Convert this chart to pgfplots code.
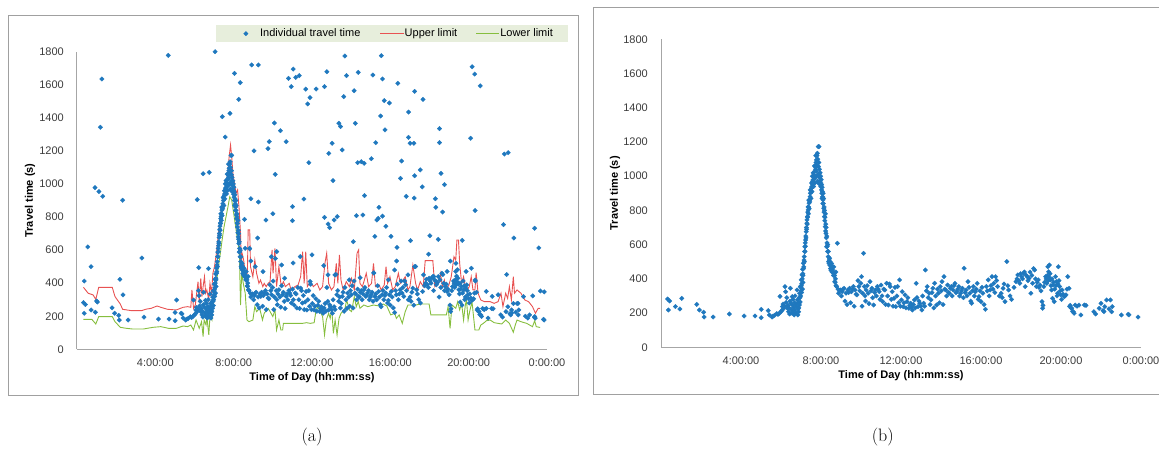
\documentclass[border=0pt]{standalone}
\usepackage{fontspec}
\setsansfont{Liberation Sans}
\usepackage{pgfplots}
\usepackage{pgfplotstable}
\pgfplotsset{compat=1.18}

\definecolor{ptblue}{RGB}{31,120,190}
\definecolor{upred}{RGB}{232,82,82}
\definecolor{lowgreen}{RGB}{134,190,62}
\definecolor{legfill}{RGB}{231,238,220}
\definecolor{axiscol}{RGB}{166,166,166}
\definecolor{framecol}{RGB}{160,160,160}
\definecolor{tickcol}{RGB}{60,60,60}

\pgfplotstableread{
h s
0.33 282
0.43 271
0.37 218
0.72 238
0.94 224
1.04 286
1.79 251
1.92 218
2.13 205
2.16 177
2.61 177
3.42 195
4.16 183
4.70 183
5.01 222
5.01 173
5.36 214
5.42 189
5.55 177
5.60 182
5.68 187
5.79 197
5.85 192
5.92 199
6.00 208
5.95 298
6.07 238
6.10 253
6.04 215
6.12 225
6.20 355
6.23 325
6.18 240
6.26 262
6.29 290
6.32 228
6.35 245
6.38 208
6.41 230
6.43 195
6.47 345
6.50 257
6.53 220
6.56 296
6.59 245
6.62 203
6.64 232
6.66 189
6.68 260
6.71 218
6.74 250
6.77 238
6.80 335
6.82 277
6.84 189
6.86 225
6.88 208
6.90 255
6.92 247
6.93 316
6.95 290
6.97 355
6.98 300
7.00 330
7.01 394
7.02 360
7.04 372
7.05 423
7.06 400
7.08 456
7.09 430
7.10 380
7.12 491
7.13 460
7.15 510
7.16 530
7.18 560
7.19 588
7.21 610
7.23 627
7.24 650
7.26 676
7.27 700
7.29 725
7.30 745
7.32 764
7.34 790
7.36 803
7.38 820
7.40 842
7.42 860
7.45 880
7.47 900
7.49 915
7.52 930
7.54 939
7.56 955
7.58 970
7.60 978
7.62 960
7.64 995
7.66 1007
7.68 985
7.70 1030
7.71 1056
7.73 1040
7.75 1080
7.77 1095
7.78 1060
7.80 1120
7.82 1134
7.84 1100
7.86 1173
7.88 1056
7.89 1080
7.90 1173
7.91 1017
7.92 1040
7.94 990
7.95 968
7.97 950
7.99 939
8.00 960
8.02 920
8.04 900
8.06 935
8.08 880
8.10 861
8.12 840
8.14 812
8.15 790
8.17 764
8.19 740
8.21 705
8.23 680
8.25 666
8.27 640
8.28 588
8.30 610
8.33 560
8.36 530
8.38 500
8.41 510
8.44 480
8.47 460
8.51 471
8.55 440
8.58 452
8.62 420
8.65 432
8.69 384
8.72 400
8.75 360
8.78 355
8.82 608
8.85 340
8.88 316
8.92 330
8.97 335
9.02 300
9.06 325
9.10 340
9.15 345
9.20 270
9.25 316
9.30 250
9.34 335
9.38 320
9.43 345
9.48 260
9.52 325
9.57 340
9.62 355
9.66 240
9.71 335
9.76 310
9.80 306
9.85 390
9.89 355
9.94 330
9.99 374
10.02 413
10.05 240
10.08 316
10.13 549
10.17 355
10.20 300
10.23 270
10.26 335
10.31 360
10.36 316
10.40 255
10.45 384
10.50 330
10.54 345
10.58 290
10.63 247
10.68 320
10.72 335
10.77 300
10.82 355
10.86 340
10.91 325
10.95 280
11.00 364
11.05 300
11.09 267
11.14 340
11.19 335
11.23 250
11.28 374
11.33 300
11.37 247
11.42 370
11.46 355
11.51 280
11.56 325
11.60 240
11.65 286
11.70 350
11.74 238
11.79 300
11.83 355
11.88 260
11.93 394
11.97 240
12.02 277
12.06 325
12.11 238
12.15 260
12.20 306
12.25 230
12.30 267
12.34 290
12.39 228
12.44 245
12.48 257
12.52 235
12.57 218
12.62 250
12.67 277
12.71 230
12.76 374
12.80 290
12.85 238
12.90 270
12.94 257
12.99 240
13.04 218
13.08 300
13.13 257
13.18 240
13.22 452
13.27 330
13.31 355
13.36 290
13.41 316
13.45 250
13.50 277
13.55 320
13.59 345
13.64 230
13.68 374
13.73 300
13.78 247
13.82 340
13.87 316
13.92 260
13.96 355
14.01 330
14.05 384
14.10 250
14.15 413
14.19 340
14.24 335
14.28 300
14.33 364
14.38 320
14.42 316
14.47 345
14.52 355
14.56 300
14.61 335
14.65 360
14.70 374
14.75 320
14.79 325
14.84 340
14.89 355
14.93 300
14.98 316
15.02 330
15.07 345
15.12 290
15.16 462
15.21 320
15.26 335
15.30 300
15.35 384
15.40 350
15.44 316
15.49 270
15.53 257
15.58 330
15.62 355
15.67 300
15.72 325
15.76 340
15.81 374
15.86 280
15.90 296
15.95 330
16.00 267
16.05 350
16.09 316
16.15 250
16.22 222
16.27 355
16.31 330
16.36 394
16.41 300
16.46 335
16.50 360
16.55 413
16.60 340
16.64 374
16.69 320
16.73 413
16.78 390
16.83 355
16.92 300
17.01 316
17.06 290
17.10 345
17.15 370
17.20 267
17.29 501
17.34 360
17.38 335
17.45 300
17.53 280
17.65 350
17.75 384
17.80 400
17.84 423
17.89 390
17.94 374
17.98 430
18.03 413
18.08 400
18.12 432
18.17 440
18.21 355
18.26 420
18.31 413
18.35 390
18.40 403
18.45 440
18.49 316
18.54 420
18.58 374
18.63 460
18.68 452
18.72 400
18.77 355
18.81 380
18.86 394
18.90 350
18.95 364
19.00 330
19.05 267
19.08 228
19.10 245
19.14 355
19.18 380
19.23 413
19.26 400
19.29 374
19.32 420
19.34 471
19.36 390
19.38 442
19.40 410
19.42 481
19.45 430
19.47 394
19.50 360
19.53 335
19.55 400
19.57 286
19.60 364
19.63 380
19.66 267
19.69 340
19.72 413
19.75 360
19.77 384
19.80 300
19.83 316
19.85 370
19.87 471
19.90 390
19.93 355
19.96 330
19.99 306
20.03 280
20.06 335
20.11 310
20.16 296
20.20 300
20.25 306
20.30 340
20.34 413
20.40 345
20.43 238
20.46 245
20.50 230
20.53 228
20.57 210
20.62 208
20.66 199
20.71 247
20.80 240
20.90 247
20.99 189
21.17 247
21.25 245
21.64 208
21.73 195
21.91 228
22.00 257
22.10 215
22.15 208
22.19 238
22.28 277
22.40 225
22.47 277
22.53 208
22.56 238
23.02 189
23.36 193
23.40 189
23.85 177
7.10 420
7.14 470
7.17 500
7.20 560
7.22 590
7.25 640
7.28 690
7.31 720
7.33 760
7.35 820
7.37 780
7.39 860
7.41 810
7.44 850
7.46 920
7.50 870
7.53 960
7.55 910
7.57 1000
7.61 1020
7.63 940
7.67 1060
7.69 960
7.72 1000
7.74 1120
7.76 1030
7.79 1000
7.81 1060
7.83 970
7.85 1010
7.87 960
7.93 1000
7.96 1020
7.98 1000
8.01 980
8.03 950
8.05 870
8.07 910
8.09 840
8.11 900
8.13 870
8.16 820
8.18 800
8.20 760
8.22 780
8.24 720
8.26 700
8.29 650
8.31 590
8.34 600
8.37 560
8.40 490
8.43 520
8.46 500
8.50 450
8.53 490
8.57 470
8.60 440
8.64 470
8.68 420
8.71 380
8.74 440
6.45 270
6.55 200
6.60 280
6.70 300
6.75 200
6.85 260
6.89 230
6.91 290
6.96 265
6.99 350
7.03 320
7.07 340
}\coredata

\pgfplotstableread{
h s
0.37 413
0.55 619
0.72 500
0.92 978
1.00 292
1.12 954
1.19 1343
1.27 1635
1.31 925
2.19 423
2.33 901
2.35 329
3.31 552
4.66 1778
5.09 298
5.32 218
6.14 905
6.22 494
6.44 1062
6.75 1070
6.71 488
7.05 1800
7.42 1407
7.57 1284
7.81 1427
8.04 1669
8.26 1512
8.34 1613
8.55 786
8.88 911
8.92 1720
9.04 1200
9.26 891
9.26 1720
9.22 673
9.65 782
9.75 1214
9.82 1256
10.00 820
10.08 1369
10.12 1058
10.39 1322
10.68 1256
10.80 1639
10.94 1589
11.04 1695
11.00 863
11.00 778
11.17 1645
11.35 1655
11.59 909
11.68 1574
11.78 1484
11.84 1129
11.90 1522
12.21 1574
12.64 1589
12.64 798
12.76 1679
12.82 758
12.86 1185
12.90 736
13.03 1246
13.07 1020
13.13 782
13.29 802
13.37 1367
13.46 1347
13.54 1206
13.62 1528
13.68 1774
13.76 1655
14.11 651
14.15 1564
14.21 1367
14.27 808
14.33 1129
14.36 1675
14.52 1135
14.60 812
14.66 1125
14.68 929
15.03 1153
15.11 1659
15.21 683
15.25 1250
15.31 782
15.38 792
15.42 859
15.50 1411
15.54 1776
15.60 1635
15.60 806
15.69 1504
15.73 1327
15.77 744
15.95 1490
16.03 683
16.34 617
16.38 1609
16.52 1034
16.58 1139
16.81 925
16.93 1435
16.93 1282
17.01 1246
17.03 657
17.20 1246
17.22 915
17.24 1050
17.24 1560
17.53 1085
17.63 982
17.67 1512
17.95 575
18.02 687
18.30 911
18.32 859
18.45 665
18.51 1335
18.51 1250
18.59 1064
18.67 830
18.77 996
19.67 659
20.10 1276
20.18 1709
20.31 1665
20.33 840
20.59 1593
21.78 754
21.82 1181
22.02 1189
21.94 452
22.31 673
23.37 732
23.58 613
23.66 353
23.86 347
23.82 181
23.27 323
23.37 198
23.11 208
22.80 319
22.52 278
8.59 611
8.81 611
8.88 534
9.10 500
9.92 560
10.20 591
10.45 510
11.04 522
11.40 560
12.00 571
12.60 506
12.82 450
13.17 450
14.46 433
15.15 462
16.22 480
16.32 534
17.24 500
17.69 450
18.22 440
19.35 520
19.06 534
20.14 490
20.33 419
9.50 470
10.60 430
11.90 410
13.90 420
15.90 420
16.90 450
18.90 470
21.50 330
21.20 320
22.20 220
22.90 200
20.90 350
}\outliers

\pgfplotstableread{
h s
0.33 375
0.57 339
0.82 329
0.96 302
1.11 375
1.80 375
1.94 319
2.21 274
2.33 242
2.76 234
3.31 234
3.50 242
3.79 248
4.09 262
4.28 254
4.62 242
5.07 238
5.42 254
5.65 258
5.81 254
5.87 359
5.95 248
6.04 268
6.18 409
6.24 288
6.32 429
6.38 319
6.44 379
6.51 439
6.57 339
6.63 359
6.73 298
6.79 399
6.87 339
6.94 460
7.02 500
7.12 581
7.22 702
7.32 802
7.41 863
7.51 923
7.61 984
7.69 1064
7.77 1165
7.84 1236
7.90 1165
7.96 1064
8.04 1004
8.12 943
8.20 964
8.27 863
8.35 702
8.39 500
8.43 581
8.51 540
8.59 460
8.70 460
8.74 722
8.82 722
8.86 500
8.98 439
9.08 540
9.17 460
9.29 399
9.37 419
9.49 379
9.56 399
9.66 379
9.76 399
9.86 409
9.96 601
10.01 460
10.11 611
10.19 379
10.31 500
10.43 379
10.54 409
10.64 379
10.84 399
10.93 359
11.13 379
11.29 389
11.42 439
11.52 591
11.60 399
11.68 591
11.76 379
11.91 409
12.07 379
12.26 399
12.40 359
12.54 379
12.66 520
12.75 581
12.85 399
12.99 359
13.12 379
13.24 520
13.32 399
13.40 571
13.48 419
13.59 359
13.75 409
13.91 379
14.02 429
14.16 359
14.30 581
14.38 601
14.45 399
14.57 379
14.65 409
14.77 460
14.89 379
15.04 399
15.14 520
15.24 379
15.43 389
15.53 359
15.69 389
15.78 500
15.86 399
15.98 439
16.12 359
16.25 379
16.41 460
16.51 399
16.65 419
16.76 439
16.90 359
17.00 379
17.15 510
17.29 399
17.39 359
17.53 409
17.68 379
17.78 536
18.17 536
18.27 379
18.46 399
18.56 460
18.66 379
18.76 419
18.86 359
18.99 389
19.11 439
19.25 560
19.34 540
19.40 661
19.48 661
19.54 520
19.64 399
19.74 439
19.83 379
19.93 359
20.03 379
20.13 439
20.22 359
20.32 359
20.38 464
20.48 339
20.62 298
20.81 288
21.10 288
21.30 278
21.50 288
21.65 339
21.75 258
21.89 339
21.99 308
22.08 379
22.18 298
22.28 439
22.34 339
22.47 359
22.67 339
22.87 298
23.06 288
23.26 258
23.41 218
23.55 248
23.65 248
}\upperlim

\pgfplotstableread{
h s
0.33 181
0.76 181
0.96 153
1.11 198
1.80 198
1.94 167
2.21 133
2.52 127
2.82 123
3.40 123
3.89 133
4.28 137
4.67 127
5.07 127
5.42 141
5.65 137
5.81 147
5.95 117
6.08 177
6.24 127
6.36 167
6.44 77
6.49 177
6.59 147
6.63 198
6.73 87
6.79 198
6.89 177
6.94 268
7.02 298
7.12 399
7.22 500
7.32 581
7.41 661
7.51 742
7.61 802
7.71 863
7.80 923
7.90 903
8.00 823
8.10 742
8.20 661
8.29 581
8.35 268
8.41 460
8.49 399
8.59 339
8.68 177
8.78 167
8.98 177
9.08 258
9.17 228
9.33 248
9.47 177
9.56 218
9.76 248
9.86 228
10.00 198
10.11 238
10.19 117
10.31 177
10.41 117
10.50 117
10.54 157
10.74 157
11.52 157
11.72 161
11.91 157
12.11 161
12.21 238
12.30 258
12.42 228
12.54 198
12.64 87
12.73 177
12.85 218
12.93 187
13.01 248
13.09 97
13.18 177
13.28 87
13.38 187
13.48 218
13.67 238
13.77 298
13.91 238
14.02 228
14.16 319
14.26 258
14.36 288
14.45 248
14.65 268
14.85 258
15.14 268
15.43 262
15.63 274
15.82 262
16.02 208
16.22 218
16.31 187
16.45 208
16.61 157
16.76 228
16.90 268
17.29 268
17.58 274
17.98 274
18.07 208
18.86 208
18.95 258
19.05 127
19.15 268
19.34 248
19.44 288
19.54 238
19.64 278
19.74 177
19.83 268
19.89 298
19.97 177
20.05 228
20.17 288
20.32 117
20.52 117
20.62 147
20.75 157
20.91 173
21.10 177
21.30 161
21.50 157
21.69 153
21.89 177
22.08 157
22.28 103
22.38 147
22.47 177
22.67 167
22.96 157
23.26 137
23.37 173
23.45 137
23.61 133
23.65 133
}\lowerlim

\pgfplotsset{
  travel/.style={
    scale only axis,
    xmin=0, xmax=24, ymin=0, ymax=1800,
    axis x line=bottom, axis y line=left,
    axis line style={axiscol, line width=1pt, -},
    xtick={4,8,12,16,20,24},
    xticklabels={4:00:00,8:00:00,12:00:00,16:00:00,20:00:00,0:00:00},
    ytick={0,200,...,1800},
    major tick length=0pt,
    tick label style={font=\sffamily\fontsize{11}{13}\selectfont, text=tickcol},
    yticklabel style={inner sep=0pt, anchor=east, xshift=-13pt},
    xticklabel style={inner sep=0pt, anchor=north, yshift=-9pt},
    /pgf/number format/assume math mode=true,
    /pgf/number format/1000 sep={},
    xlabel={Time of Day (hh:mm:ss)},
    ylabel={Travel time (s)},
    every axis x label/.style={at={(axis description cs:0.5,0)}, anchor=center, yshift=-28.4pt,
      font=\sffamily\bfseries\fontsize{11}{13}\selectfont, text=black},
    clip=false,
  },
  pts/.style={only marks, mark=square*, mark size=1.6pt, color=ptblue,
    mark options={rotate=45, fill=ptblue, draw=ptblue, line width=0.3pt}},
  ptleg/.style={legend image code/.code={\path[draw=none,fill=none] (-8pt,-3pt) rectangle (14pt,3pt); \draw[##1] plot coordinates {(7pt,0pt)};}},
  lineleg/.style 2 args={legend image code/.code={\path[draw=none,fill=none] (0pt,-3pt) rectangle (#1,3pt); \fill[fill=#2, draw=none] (0pt,-0.55pt) rectangle (#1,0.55pt);}},
}

\begin{document}
\begin{tikzpicture}
\useasboundingbox (0pt,0pt) rectangle (1159pt,448pt);
\draw[framecol, line width=1pt] (8.4pt,52.7pt) rectangle (578pt,432.3pt);
\draw[framecol, line width=1pt] (1162pt,440.7pt) -- (593.3pt,440.7pt) -- (593.3pt,53.7pt) -- (1162pt,53.7pt);

\begin{axis}[travel,
  at={(77pt,98.7pt)}, anchor=south west, width=470pt, height=297.6pt,
  every axis y label/.style={at={(axis description cs:-0.1,0.5)}, rotate=90, anchor=center,
    font=\sffamily\bfseries\fontsize{11}{13}\selectfont, text=black},
  legend columns=3,
  legend cell align=left,
  legend style={at={(0.2957,1.0897)}, anchor=north west, fill=legfill, draw=none,
    inner xsep=14.7pt, inner ysep=3.7pt,
    font=\sffamily\fontsize{11}{13}\selectfont,
    nodes={inner sep=0pt},
    /tikz/column 1/.style={column sep=7.3pt},
    /tikz/column 2/.style={column sep=19.8pt},
    /tikz/column 3/.style={column sep=1pt},
    /tikz/column 4/.style={column sep=19pt},
    /tikz/column 5/.style={column sep=1pt}},
]
\addplot[pts, ptleg] table {\coredata};
\addlegendentry{Individual travel time}
\addplot[pts, forget plot] table {\outliers};
\addplot[upred, line width=0.9pt, lineleg={23.5pt}{upred}] table {\upperlim};
\addlegendentry{Upper limit}
\addplot[lowgreen, line width=0.9pt, lineleg={23pt}{lowgreen}] table {\lowerlim};
\addlegendentry{Lower limit}
\end{axis}

\begin{axis}[travel,
  at={(661pt,100.7pt)}, anchor=south west, width=480pt, height=308pt,
  every axis y label/.style={at={(axis description cs:-0.0958,0.5)}, rotate=90, anchor=center,
    font=\sffamily\bfseries\fontsize{11}{13}\selectfont, text=black},
]
\addplot[pts] table {\coredata};
\end{axis}

\node[font=\fontsize{18}{21}\selectfont] at (312pt,11.3pt) {(a)};
\node[font=\fontsize{18}{21}\selectfont] at (882.8pt,11pt) {(b)};
\end{tikzpicture}
\end{document}
